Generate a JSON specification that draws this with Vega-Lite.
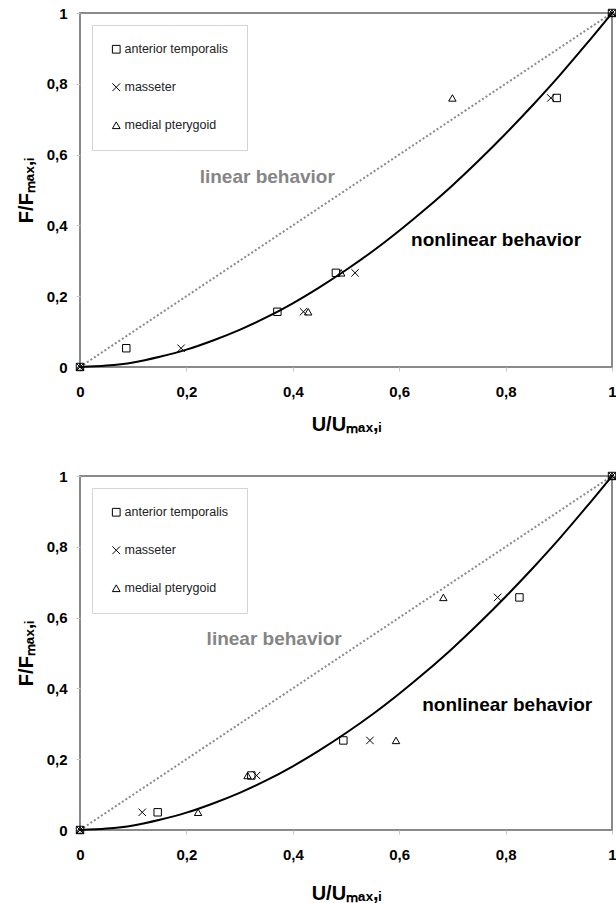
{
  "$schema": "https://vega.github.io/schema/vega-lite/v6.json",
  "background": "white",
  "padding": {"left": 15, "top": 5, "right": 2, "bottom": 0},
  "spacing": 33,
  "datasets": {
    "curve": [
      {"u": 0, "f": 0}, {"u": 0.05, "f": 0.004}, {"u": 0.1, "f": 0.013}, {"u": 0.15, "f": 0.029},
      {"u": 0.2, "f": 0.049}, {"u": 0.25, "f": 0.075}, {"u": 0.3, "f": 0.105}, {"u": 0.35, "f": 0.140},
      {"u": 0.4, "f": 0.180}, {"u": 0.45, "f": 0.225}, {"u": 0.5, "f": 0.274}, {"u": 0.55, "f": 0.327},
      {"u": 0.6, "f": 0.385}, {"u": 0.65, "f": 0.447}, {"u": 0.7, "f": 0.513}, {"u": 0.75, "f": 0.584},
      {"u": 0.8, "f": 0.659}, {"u": 0.85, "f": 0.738}, {"u": 0.9, "f": 0.821}, {"u": 0.95, "f": 0.909},
      {"u": 1, "f": 1}
    ],
    "linear": [{"u": 0, "f": 0}, {"u": 1, "f": 1}],
    "p1": [
      {"muscle": "anterior temporalis", "u": 0, "f": 0},
      {"muscle": "anterior temporalis", "u": 0.087, "f": 0.053},
      {"muscle": "anterior temporalis", "u": 0.371, "f": 0.156},
      {"muscle": "anterior temporalis", "u": 0.481, "f": 0.266},
      {"muscle": "anterior temporalis", "u": 0.896, "f": 0.76},
      {"muscle": "anterior temporalis", "u": 1, "f": 1},
      {"muscle": "masseter", "u": 0, "f": 0},
      {"muscle": "masseter", "u": 0.19, "f": 0.053},
      {"muscle": "masseter", "u": 0.42, "f": 0.156},
      {"muscle": "masseter", "u": 0.517, "f": 0.266},
      {"muscle": "masseter", "u": 0.885, "f": 0.76},
      {"muscle": "masseter", "u": 1, "f": 1},
      {"muscle": "medial pterygoid", "u": 0, "f": 0},
      {"muscle": "medial pterygoid", "u": 0.429, "f": 0.156},
      {"muscle": "medial pterygoid", "u": 0.491, "f": 0.266},
      {"muscle": "medial pterygoid", "u": 0.70, "f": 0.76},
      {"muscle": "medial pterygoid", "u": 1, "f": 1}
    ],
    "p2": [
      {"muscle": "anterior temporalis", "u": 0, "f": 0},
      {"muscle": "anterior temporalis", "u": 0.146, "f": 0.05},
      {"muscle": "anterior temporalis", "u": 0.322, "f": 0.154},
      {"muscle": "anterior temporalis", "u": 0.495, "f": 0.253},
      {"muscle": "anterior temporalis", "u": 0.826, "f": 0.657},
      {"muscle": "anterior temporalis", "u": 1, "f": 1},
      {"muscle": "masseter", "u": 0, "f": 0},
      {"muscle": "masseter", "u": 0.117, "f": 0.05},
      {"muscle": "masseter", "u": 0.332, "f": 0.154},
      {"muscle": "masseter", "u": 0.545, "f": 0.253},
      {"muscle": "masseter", "u": 0.785, "f": 0.657},
      {"muscle": "masseter", "u": 1, "f": 1},
      {"muscle": "medial pterygoid", "u": 0, "f": 0},
      {"muscle": "medial pterygoid", "u": 0.222, "f": 0.05},
      {"muscle": "medial pterygoid", "u": 0.315, "f": 0.154},
      {"muscle": "medial pterygoid", "u": 0.594, "f": 0.253},
      {"muscle": "medial pterygoid", "u": 0.683, "f": 0.657},
      {"muscle": "medial pterygoid", "u": 1, "f": 1}
    ],
    "lab1": [
      {"text": "linear behavior", "u": 0.352, "f": 0.538, "kind": "lin"},
      {"text": "nonlinear behavior", "u": 0.782, "f": 0.36, "kind": "non"}
    ],
    "lab2": [
      {"text": "linear behavior", "u": 0.365, "f": 0.539, "kind": "lin"},
      {"text": "nonlinear behavior", "u": 0.803, "f": 0.353, "kind": "non"}
    ]
  },
  "resolve": {"scale": {"shape": "independent", "color": "independent"}, "legend": {"shape": "independent"}},
  "vconcat": [
    {
      "width": 532,
      "height": 354,
      "layer": [
        {
          "data": {"name": "linear"},
          "mark": {"type": "line", "stroke": "#8a8a8a", "strokeWidth": 2, "strokeDash": [2, 2.2]},
          "encoding": {
            "x": {"field": "u", "type": "quantitative", "scale": {"domain": [0, 1], "nice": false},
                  "axis": {"values": [0, 0.2, 0.4, 0.6, 0.8, 1], "format": ".1~f", "labelExpr": "replace(datum.label, '.', ',')", "title": "U/Uₘₐₓ,ᵢ"}},
            "y": {"field": "f", "type": "quantitative", "scale": {"domain": [0, 1], "nice": false},
                  "axis": {"values": [0, 0.2, 0.4, 0.6, 0.8, 1], "format": ".1~f", "labelExpr": "replace(datum.label, '.', ',')", "title": "F/Fₘₐₓ,ᵢ"}}
          }
        },
        {
          "data": {"name": "curve"},
          "mark": {"type": "line", "stroke": "black", "strokeWidth": 2, "interpolate": "monotone"},
          "encoding": {
            "x": {"field": "u", "type": "quantitative"},
            "y": {"field": "f", "type": "quantitative"}
          }
        },
        {
          "data": {"name": "p1"},
          "mark": {"type": "point", "filled": false, "stroke": "black", "strokeWidth": 1, "size": 55, "opacity": 1},
          "encoding": {
            "x": {"field": "u", "type": "quantitative"},
            "y": {"field": "f", "type": "quantitative"},
            "shape": {"field": "muscle", "type": "nominal",
                      "scale": {"domain": ["anterior temporalis", "masseter", "medial pterygoid"], "range": ["square", "M-1,-1L1,1M-1,1L1,-1", "triangle-up"]},
                      "legend": {"title": null, "orient": "top-left", "offset": 12}}
          }
        },
        {
          "data": {"name": "lab1"},
          "transform": [{"filter": "datum.kind == 'lin'"}],
          "mark": {"type": "text", "font": "Liberation Sans", "fontWeight": "bold", "fontSize": 19, "color": "#858585", "align": "center", "baseline": "middle"},
          "encoding": {
            "x": {"field": "u", "type": "quantitative"},
            "y": {"field": "f", "type": "quantitative"},
            "text": {"field": "text"}
          }
        },
        {
          "data": {"name": "lab1"},
          "transform": [{"filter": "datum.kind == 'non'"}],
          "mark": {"type": "text", "font": "Liberation Sans", "fontWeight": "bold", "fontSize": 19, "color": "black", "align": "center", "baseline": "middle"},
          "encoding": {
            "x": {"field": "u", "type": "quantitative"},
            "y": {"field": "f", "type": "quantitative"},
            "text": {"field": "text"}
          }
        }
      ]
    },
    {
      "width": 532,
      "height": 354,
      "layer": [
        {
          "data": {"name": "linear"},
          "mark": {"type": "line", "stroke": "#8a8a8a", "strokeWidth": 2, "strokeDash": [2, 2.2]},
          "encoding": {
            "x": {"field": "u", "type": "quantitative", "scale": {"domain": [0, 1], "nice": false},
                  "axis": {"values": [0, 0.2, 0.4, 0.6, 0.8, 1], "format": ".1~f", "labelExpr": "replace(datum.label, '.', ',')", "title": "U/Uₘₐₓ,ᵢ", "titlePadding": 21}},
            "y": {"field": "f", "type": "quantitative", "scale": {"domain": [0, 1], "nice": false},
                  "axis": {"values": [0, 0.2, 0.4, 0.6, 0.8, 1], "format": ".1~f", "labelExpr": "replace(datum.label, '.', ',')", "title": "F/Fₘₐₓ,ᵢ"}}
          }
        },
        {
          "data": {"name": "curve"},
          "mark": {"type": "line", "stroke": "black", "strokeWidth": 2, "interpolate": "monotone"},
          "encoding": {
            "x": {"field": "u", "type": "quantitative"},
            "y": {"field": "f", "type": "quantitative"}
          }
        },
        {
          "data": {"name": "p2"},
          "mark": {"type": "point", "filled": false, "stroke": "black", "strokeWidth": 1, "size": 55, "opacity": 1},
          "encoding": {
            "x": {"field": "u", "type": "quantitative"},
            "y": {"field": "f", "type": "quantitative"},
            "shape": {"field": "muscle", "type": "nominal",
                      "scale": {"domain": ["anterior temporalis", "masseter", "medial pterygoid"], "range": ["square", "M-1,-1L1,1M-1,1L1,-1", "triangle-up"]},
                      "legend": {"title": null, "orient": "top-left", "offset": 12}}
          }
        },
        {
          "data": {"name": "lab2"},
          "transform": [{"filter": "datum.kind == 'lin'"}],
          "mark": {"type": "text", "font": "Liberation Sans", "fontWeight": "bold", "fontSize": 19, "color": "#858585", "align": "center", "baseline": "middle"},
          "encoding": {
            "x": {"field": "u", "type": "quantitative"},
            "y": {"field": "f", "type": "quantitative"},
            "text": {"field": "text"}
          }
        },
        {
          "data": {"name": "lab2"},
          "transform": [{"filter": "datum.kind == 'non'"}],
          "mark": {"type": "text", "font": "Liberation Sans", "fontWeight": "bold", "fontSize": 19, "color": "black", "align": "center", "baseline": "middle"},
          "encoding": {
            "x": {"field": "u", "type": "quantitative"},
            "y": {"field": "f", "type": "quantitative"},
            "text": {"field": "text"}
          }
        }
      ]
    }
  ],
  "config": {
    "font": "Liberation Sans",
    "view": {"stroke": "#8a8a8a", "strokeWidth": 2},
    "axis": {
      "grid": false,
      "domain": false,
      "ticks": true,
      "tickColor": "#c8c8c8",
      "tickSize": 4,
      "labelFont": "Liberation Sans",
      "labelFontSize": 15,
      "labelFontWeight": "bold",
      "labelColor": "black",
      "labelFlush": false,
      "labelOverlap": false,
      "titleFont": "Liberation Sans",
      "titleFontSize": 20,
      "titleFontWeight": "bold",
      "titleColor": "black"
    },
    "axisX": {"labelPadding": 13, "titlePadding": 15},
    "axisY": {"labelPadding": 9, "titlePadding": 10},
    "legend": {
      "strokeColor": "#d4d4d4",
      "padding": 18,
      "rowPadding": 25,
      "labelFont": "Liberation Sans",
      "labelFontSize": 12.5,
      "labelColor": "#222",
      "labelOffset": 2,
      "symbolSize": 60,
      "symbolStrokeWidth": 1,
      "symbolStrokeColor": "black",
      "symbolFillColor": "transparent"
    }
  }
}
